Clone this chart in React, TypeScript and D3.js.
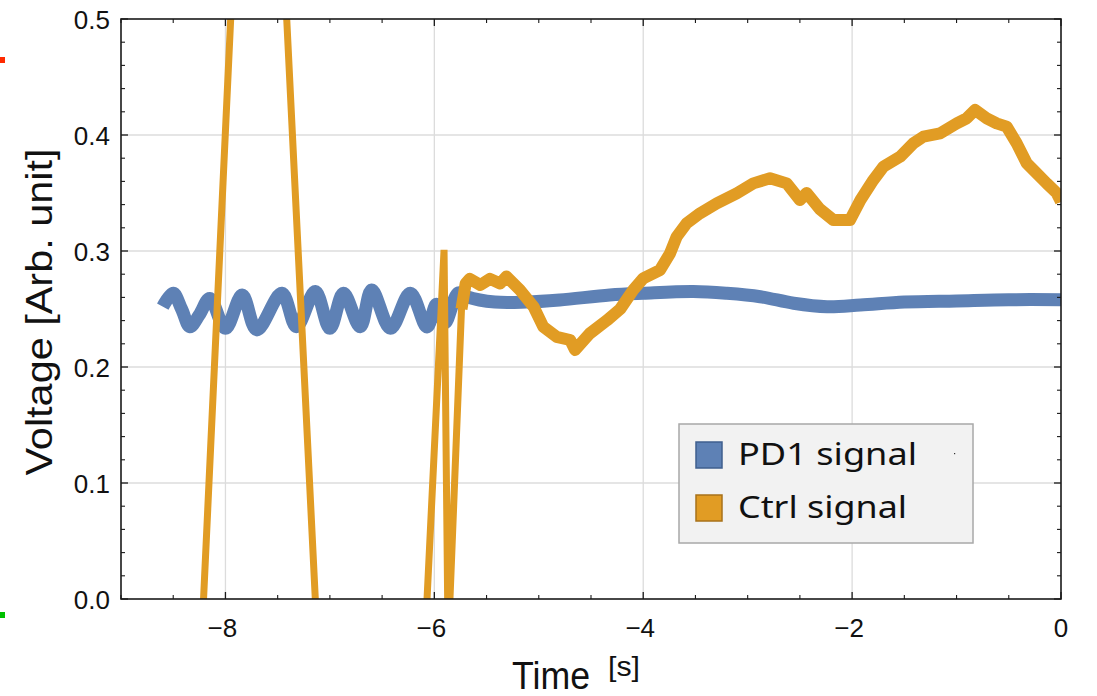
import React from "react";
import * as d3 from "d3";

const W = 1097;
const H = 696;

const xDomain: [number, number] = [-9, 0];
const yDomain: [number, number] = [0, 0.5];
const xMajorTicks = [-8, -6, -4, -2, 0];
const yMajorTicks = [0.0, 0.1, 0.2, 0.3, 0.4, 0.5];

const blueT = [-8.6, -8.5, -8.42, -8.34, -8.25, -8.15, -8.0, -7.84, -7.7, -7.46, -7.32, -7.14, -7.0, -6.87, -6.71, -6.6, -6.42, -6.23, -6.07, -5.98, -5.9, -5.77, -5.69, -5.42, -5.12, -4.8, -4.32, -4.0, -3.52, -3.2, -2.88, -2.56, -2.24, -1.92, -1.5, -1.0, -0.5, 0.0];
const blueV = [0.252, 0.2635, 0.25, 0.2347, 0.245, 0.259, 0.2333, 0.262, 0.232, 0.2635, 0.2347, 0.265, 0.2333, 0.2635, 0.2347, 0.2664, 0.2333, 0.2635, 0.2345, 0.254, 0.238, 0.264, 0.2606, 0.256, 0.256, 0.2578, 0.262, 0.2635, 0.265, 0.2635, 0.2606, 0.255, 0.252, 0.2534, 0.256, 0.257, 0.258, 0.258];

const ctrlT = [-8.272, -7.898, -7.468, -7.074, -6.097, -5.907, -5.868, -5.74, -5.7, -5.66, -5.56, -5.467, -5.37, -5.31, -5.18, -5.05, -4.957, -4.83, -4.7, -4.653, -4.51, -4.35, -4.22, -4.095, -4.0, -3.84, -3.743, -3.68, -3.584, -3.456, -3.296, -3.105, -2.946, -2.786, -2.626, -2.5, -2.435, -2.31, -2.18, -2.02, -1.92, -1.797, -1.7, -1.54, -1.413, -1.317, -1.158, -0.998, -0.903, -0.823, -0.711, -0.616, -0.52, -0.424, -0.328, -0.233, -0.137, -0.041, 0.0];
const ctrlV = [-0.12, 0.6, 0.6, -0.12, -0.05, 0.301, -0.04, 0.25, 0.272, 0.276, 0.2707, 0.276, 0.272, 0.278, 0.2664, 0.252, 0.2347, 0.226, 0.2233, 0.2147, 0.229, 0.24, 0.25, 0.2664, 0.2765, 0.2836, 0.298, 0.3123, 0.3239, 0.3325, 0.3411, 0.3497, 0.3583, 0.3627, 0.3583, 0.344, 0.35, 0.3362, 0.3267, 0.3267, 0.344, 0.3612, 0.3727, 0.3813, 0.3928, 0.3986, 0.4014, 0.41, 0.4144, 0.4216, 0.4144, 0.41, 0.4072, 0.3928, 0.3756, 0.367, 0.3583, 0.35, 0.3425];

const seriesNames = ["PD1 signal", "Ctrl signal"];
const colors = ["#5E81B5", "#E19C24"];
const strokeColors = ["#3F5F8E", "#A8721A"];

const M = { left: 121, right: 1061, top: 19, bottom: 599 };

export default function App() {
  const x = d3.scaleLinear().domain(xDomain).range([M.left, M.right]);
  const y = d3.scaleLinear().domain(yDomain).range([M.bottom, M.top]);

  const xMinor = d3.range(-9, 0.001, 0.5).filter((v) => !xMajorTicks.some((m) => Math.abs(m - v) < 1e-6));
  const yMinor = d3.range(0, 0.5001, 0.02).filter((v) => !yMajorTicks.some((m) => Math.abs(m - v) < 1e-6));

  const blueData = blueT.map((t, i) => [t, blueV[i]] as [number, number]);
  const ctrlData = ctrlT.map((t, i) => [t, ctrlV[i]] as [number, number]);
  const ctrlNoisy = ctrlData.filter((d) => d[0] >= -5.74);

  const lineSmooth = d3.line<[number, number]>().x((d) => x(d[0])).y((d) => y(d[1])).curve(d3.curveCatmullRom.alpha(0.5));
  const lineLin = d3.line<[number, number]>().x((d) => x(d[0])).y((d) => y(d[1]));

  const tickFont = "'Liberation Sans', Arial, sans-serif";
  const axisColor = "#1a1a1a";

  return (
    <svg width={W} height={H} style={{ position: "absolute", left: 0, top: 0, display: "block" }}>
      <defs>
        <clipPath id="plotClip">
          <rect x={M.left} y={M.top} width={M.right - M.left} height={M.bottom - M.top} />
        </clipPath>
      </defs>
      <rect x={0} y={0} width={W} height={H} fill="#ffffff" />
      {xMajorTicks.filter((v) => v > xDomain[0] && v < xDomain[1]).map((v) => (
        <line key={"gx" + v} x1={x(v)} x2={x(v)} y1={M.top} y2={M.bottom} stroke="#dcdcdc" strokeWidth={1.3} />
      ))}
      {yMajorTicks.filter((v) => v > yDomain[0] && v < yDomain[1]).map((v) => (
        <line key={"gy" + v} x1={M.left} x2={M.right} y1={y(v)} y2={y(v)} stroke="#dcdcdc" strokeWidth={1.3} />
      ))}

      <g clipPath="url(#plotClip)">
        <path d={lineSmooth(blueData) || ""} fill="none" stroke={colors[0]} strokeWidth={13} strokeLinejoin="round" />
        <path d={lineLin(ctrlData) || ""} fill="none" stroke={colors[1]} strokeWidth={7} strokeLinejoin="miter" />
        <path d={lineLin(ctrlNoisy) || ""} fill="none" stroke={colors[1]} strokeWidth={12} strokeLinejoin="round" />
      </g>

      <rect x={M.left} y={M.top} width={M.right - M.left} height={M.bottom - M.top} fill="none" stroke={axisColor} strokeWidth={1.6} />

      {xMajorTicks.map((v) => (
        <g key={"xt" + v}>
          <line x1={x(v)} x2={x(v)} y1={M.bottom} y2={M.bottom - 7} stroke={axisColor} strokeWidth={1.3} />
          <line x1={x(v)} x2={x(v)} y1={M.top} y2={M.top + 7} stroke={axisColor} strokeWidth={1.3} />
          <text x={x(v) + (v < 0 ? -3 : 0)} y={637} fontSize={26} fontFamily={tickFont} textAnchor="middle" fill="#111">
            {v < 0 ? "\u2212" + Math.abs(v) : String(v)}
          </text>
        </g>
      ))}
      {xMinor.map((v) => (
        <g key={"xm" + v}>
          <line x1={x(v)} x2={x(v)} y1={M.bottom} y2={M.bottom - 4} stroke={axisColor} strokeWidth={1.1} />
          <line x1={x(v)} x2={x(v)} y1={M.top} y2={M.top + 4} stroke={axisColor} strokeWidth={1.1} />
        </g>
      ))}
      {yMajorTicks.map((v) => (
        <g key={"yt" + v}>
          <line x1={M.left} x2={M.left + 7} y1={y(v)} y2={y(v)} stroke={axisColor} strokeWidth={1.3} />
          <line x1={M.right} x2={M.right - 7} y1={y(v)} y2={y(v)} stroke={axisColor} strokeWidth={1.3} />
          <text x={110} y={y(v) + 9.5} fontSize={26} fontFamily={tickFont} textAnchor="end" fill="#111">
            {v.toFixed(1)}
          </text>
        </g>
      ))}
      {yMinor.map((v) => (
        <g key={"ym" + v}>
          <line x1={M.left} x2={M.left + 4} y1={y(v)} y2={y(v)} stroke={axisColor} strokeWidth={1.1} />
          <line x1={M.right} x2={M.right - 4} y1={y(v)} y2={y(v)} stroke={axisColor} strokeWidth={1.1} />
        </g>
      ))}

      <text transform="translate(52,312) rotate(-90)" fontSize={36} fontFamily={tickFont} textAnchor="middle" fill="#111" textLength={327} lengthAdjust="spacingAndGlyphs">
        Voltage [Arb. unit]
      </text>
      <text x={512} y={689} fontSize={38} fontFamily={tickFont} fill="#111" textLength={78} lengthAdjust="spacingAndGlyphs">
        Time
      </text>
      <text x={608} y={676} fontSize={28} fontFamily={tickFont} fill="#111" textLength={32} lengthAdjust="spacingAndGlyphs">
        [s]
      </text>

      <g>
        <rect x={679} y={424} width={294} height={119} fill="#f2f2f2" stroke="#a8a8a8" strokeWidth={1.5} />
        {seriesNames.map((name, i) => (
          <g key={name}>
            <rect x={696} y={442 + i * 53} width={26} height={26} fill={colors[i]} stroke={strokeColors[i]} strokeWidth={1.5} />
            <text x={738} y={465 + i * 53} fontSize={31} fontFamily="'Noto Sans', sans-serif" fill="#111" textLength={i === 0 ? 179 : 169} lengthAdjust="spacingAndGlyphs">
              {name}
            </text>
          </g>
        ))}
        <rect x={954} y={453} width={1.2} height={1.2} fill="#333" />
      </g>

      <rect x={0} y={57} width={5} height={6} fill="#ff2a00" />
      <rect x={0} y={612} width={5} height={6} fill="#00c000" />
    </svg>
  );
}
